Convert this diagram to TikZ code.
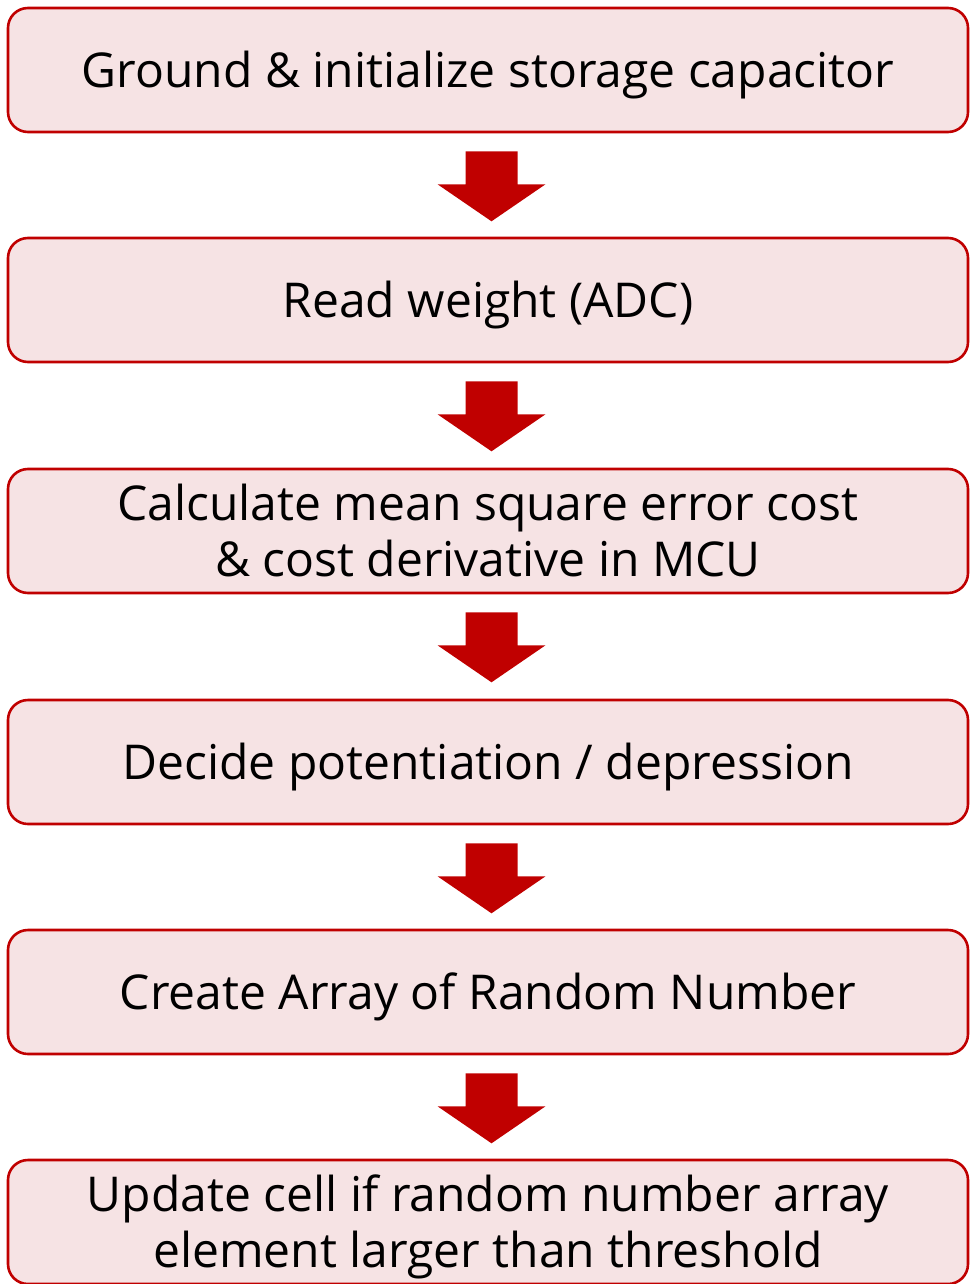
\documentclass[tikz,border=0pt]{standalone}
\usepackage{fontspec}
\setmainfont{Open Sans}
\usetikzlibrary{calc}
\definecolor{stepred}{HTML}{C00000}
\definecolor{stepfill}{HTML}{F6E3E4}
\begin{document}
\begin{tikzpicture}[x=1pt,y=-1pt,
  stepbox/.style={draw=stepred, line width=2.6pt, fill=stepfill, rounded corners=20pt,
    minimum width=960pt, minimum height=124pt, inner sep=0pt, align=center,
    text height=34.3pt, text depth=0pt,
    font=\fontsize{48}{56}\selectfont, text=black},
  twoline/.style={text height=90.3pt},
  flowarrow/.style={fill=stepred, draw=none}]
\useasboundingbox (0,0) rectangle (971,1284);
\node[stepbox] (s1) at (488,70)   {Ground \& initialize storage capacitor};
\node[stepbox] (s2) at (488,300)  {Read weight (ADC)};
\node[stepbox,twoline] (s3) at (488,531)  {Calculate mean square error cost\\\& cost derivative in MCU};
\node[stepbox] (s4) at (488,762)  {Decide potentiation / depression};
\node[stepbox] (s5) at (488,992)  {Create Array of Random Number};
\node[stepbox,twoline] (s6) at (488,1222) {Update cell if random number array\\element larger than threshold};
% block arrows between consecutive steps
\foreach \a/\b in {s1/s2,s2/s3,s3/s4,s4/s5,s5/s6}{
  \coordinate (top) at ($(\a.south)+(3.5,18)$);
  \fill[flowarrow] ($(top)+(-26,0)$) -- ++(52,0) -- ++(0,33) -- ++(28,0)
     -- ($(top)+(0,70)$) -- ($(top)+(-54,33)$) -- ++(28,0) -- cycle;
}
\end{tikzpicture}
\end{document}
